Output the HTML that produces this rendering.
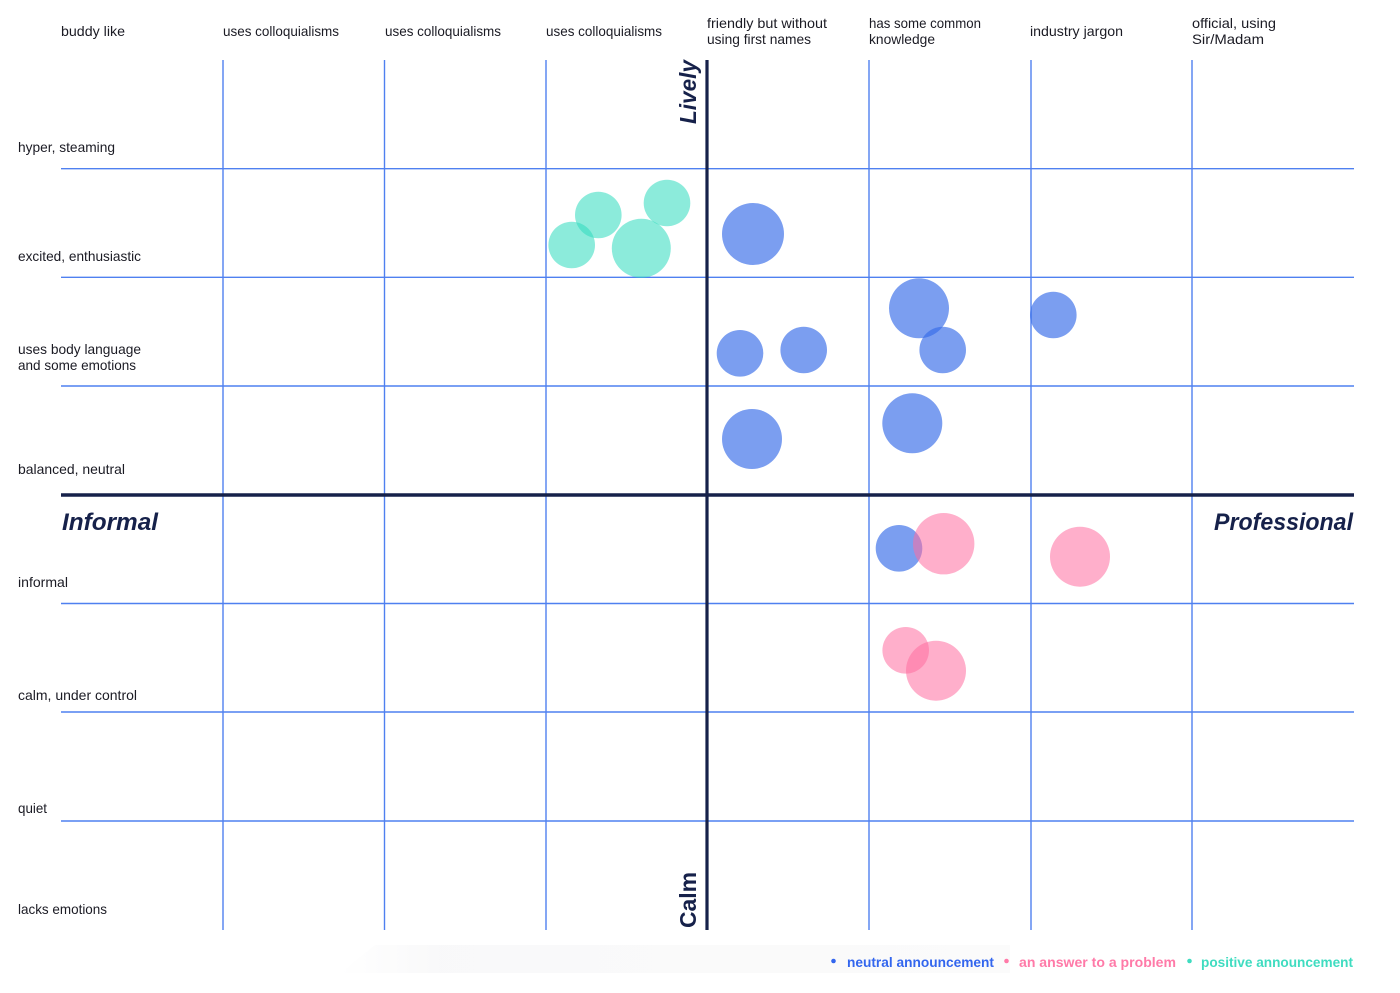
<!DOCTYPE html>
<html>
<head>
<meta charset="utf-8">
<style>
  html,body{margin:0;padding:0;background:#fff;}
  svg{display:block;}
  text{font-family:"Liberation Sans", sans-serif;}
  .lab{font-size:14px;fill:#1b1b24;}
  .big{font-size:24px;font-weight:bold;font-style:italic;fill:#16214a;}
  .leg{font-size:14px;font-weight:bold;}
</style>
</head>
<body>
<svg width="1400" height="993" viewBox="0 0 1400 993" xmlns="http://www.w3.org/2000/svg">
  <defs>
    <linearGradient id="lg" x1="0" x2="1" y1="0" y2="0">
      <stop offset="0" stop-color="#f7f7f8" stop-opacity="0"/>
      <stop offset="0.15" stop-color="#f7f7f8" stop-opacity="1"/>
      <stop offset="1" stop-color="#fafafa" stop-opacity="1"/>
    </linearGradient>
  </defs>
  <rect x="0" y="0" width="1400" height="993" fill="#fff"/>
  <polygon points="340,973 1010,973 1010,945 375,945" fill="url(#lg)" opacity="0.8"/>

  <g stroke="#4f80f0" stroke-width="1.4">
    <line x1="223" y1="60" x2="223" y2="930"/>
    <line x1="384.5" y1="60" x2="384.5" y2="930"/>
    <line x1="546" y1="60" x2="546" y2="930"/>
    <line x1="869" y1="60" x2="869" y2="930"/>
    <line x1="1031" y1="60" x2="1031" y2="930"/>
    <line x1="1192" y1="60" x2="1192" y2="930"/>
  </g>
  <g stroke="#4f80f0" stroke-width="1.4">
    <line x1="61" y1="168.7" x2="1354" y2="168.7"/>
    <line x1="61" y1="277.3" x2="1354" y2="277.3"/>
    <line x1="61" y1="386" x2="1354" y2="386"/>
    <line x1="61" y1="603.5" x2="1354" y2="603.5"/>
    <line x1="61" y1="712" x2="1354" y2="712"/>
    <line x1="61" y1="821" x2="1354" y2="821"/>
  </g>

  <g fill="rgb(50,220,190)" fill-opacity="0.56">
    <circle cx="571.7" cy="245" r="23.3"/>
    <circle cx="598.3" cy="215" r="23.3"/>
    <circle cx="667" cy="203" r="23.3"/>
    <circle cx="641.3" cy="248.3" r="29.5"/>
  </g>
  <g fill="rgb(55,108,232)" fill-opacity="0.66">
    <circle cx="753" cy="234" r="31"/>
    <circle cx="740" cy="353.3" r="23.3"/>
    <circle cx="803.7" cy="350" r="23.3"/>
    <circle cx="752" cy="439" r="30"/>
    <circle cx="919" cy="308.3" r="30"/>
    <circle cx="942.7" cy="350" r="23.3"/>
    <circle cx="1053.3" cy="315" r="23.3"/>
    <circle cx="912.3" cy="423.3" r="30"/>
    <circle cx="899" cy="548.3" r="23.3"/>
  </g>
  <g fill="rgb(255,110,160)" fill-opacity="0.55">
    <circle cx="943.7" cy="543.7" r="30.7"/>
    <circle cx="1080" cy="556.7" r="30"/>
    <circle cx="905.7" cy="650.3" r="23.3"/>
    <circle cx="936" cy="670.7" r="30"/>
  </g>

  <line x1="707" y1="60" x2="707" y2="930" stroke="#16214a" stroke-width="3.2"/>
  <line x1="61" y1="495" x2="1354" y2="495" stroke="#16214a" stroke-width="3.5"/>

  <text class="big" x="62" y="530" textLength="96" lengthAdjust="spacingAndGlyphs">Informal</text>
  <text class="big" x="1214" y="530" textLength="139" lengthAdjust="spacingAndGlyphs">Professional</text>
  <text class="big" transform="translate(696,124) rotate(-90)" style="font-size:23px" textLength="64" lengthAdjust="spacingAndGlyphs">Lively</text>
  <text transform="translate(696,928) rotate(-90)" style="font-size:23px;font-weight:bold;fill:#16214a" textLength="56" lengthAdjust="spacingAndGlyphs">Calm</text>

  <text class="lab" x="61" y="36" textLength="64" lengthAdjust="spacingAndGlyphs">buddy like</text>
  <text class="lab" x="223" y="36" textLength="116" lengthAdjust="spacingAndGlyphs">uses colloquialisms</text>
  <text class="lab" x="385" y="36" textLength="116" lengthAdjust="spacingAndGlyphs">uses colloquialisms</text>
  <text class="lab" x="546" y="36" textLength="116" lengthAdjust="spacingAndGlyphs">uses colloquialisms</text>
  <text class="lab" x="707" y="28" textLength="120" lengthAdjust="spacingAndGlyphs">friendly but without</text>
  <text class="lab" x="707" y="44" textLength="104" lengthAdjust="spacingAndGlyphs">using first names</text>
  <text class="lab" x="869" y="28" textLength="112" lengthAdjust="spacingAndGlyphs">has some common</text>
  <text class="lab" x="869" y="44" textLength="66" lengthAdjust="spacingAndGlyphs">knowledge</text>
  <text class="lab" x="1030" y="36" textLength="93" lengthAdjust="spacingAndGlyphs">industry jargon</text>
  <text class="lab" x="1192" y="28" textLength="84" lengthAdjust="spacingAndGlyphs">official, using</text>
  <text class="lab" x="1192" y="44" textLength="72" lengthAdjust="spacingAndGlyphs">Sir/Madam</text>

  <text class="lab" x="18" y="152" textLength="97" lengthAdjust="spacingAndGlyphs">hyper, steaming</text>
  <text class="lab" x="18" y="261" textLength="123" lengthAdjust="spacingAndGlyphs">excited, enthusiastic</text>
  <text class="lab" x="18" y="354" textLength="123" lengthAdjust="spacingAndGlyphs">uses body language</text>
  <text class="lab" x="18" y="370" textLength="118" lengthAdjust="spacingAndGlyphs">and some emotions</text>
  <text class="lab" x="18" y="474" textLength="107" lengthAdjust="spacingAndGlyphs">balanced, neutral</text>
  <text class="lab" x="18" y="587" textLength="50" lengthAdjust="spacingAndGlyphs">informal</text>
  <text class="lab" x="18" y="700" textLength="119" lengthAdjust="spacingAndGlyphs">calm, under control</text>
  <text class="lab" x="18" y="813" textLength="29" lengthAdjust="spacingAndGlyphs">quiet</text>
  <text class="lab" x="18" y="914" textLength="89" lengthAdjust="spacingAndGlyphs">lacks emotions</text>

  <circle cx="833.5" cy="961" r="2.3" fill="#3366ee"/>
  <text class="leg" x="847" y="967" style="fill:#3366ee" textLength="147" lengthAdjust="spacingAndGlyphs">neutral announcement</text>
  <circle cx="1006.5" cy="961" r="2.3" fill="#ff7aa8"/>
  <text class="leg" x="1019" y="967" style="fill:#ff7aa8" textLength="157" lengthAdjust="spacingAndGlyphs">an answer to a problem</text>
  <circle cx="1189.5" cy="961" r="2.3" fill="#3fdcc0"/>
  <text class="leg" x="1201" y="967" style="fill:#3fdcc0" textLength="152" lengthAdjust="spacingAndGlyphs">positive announcement</text>
</svg>
</body>
</html>
